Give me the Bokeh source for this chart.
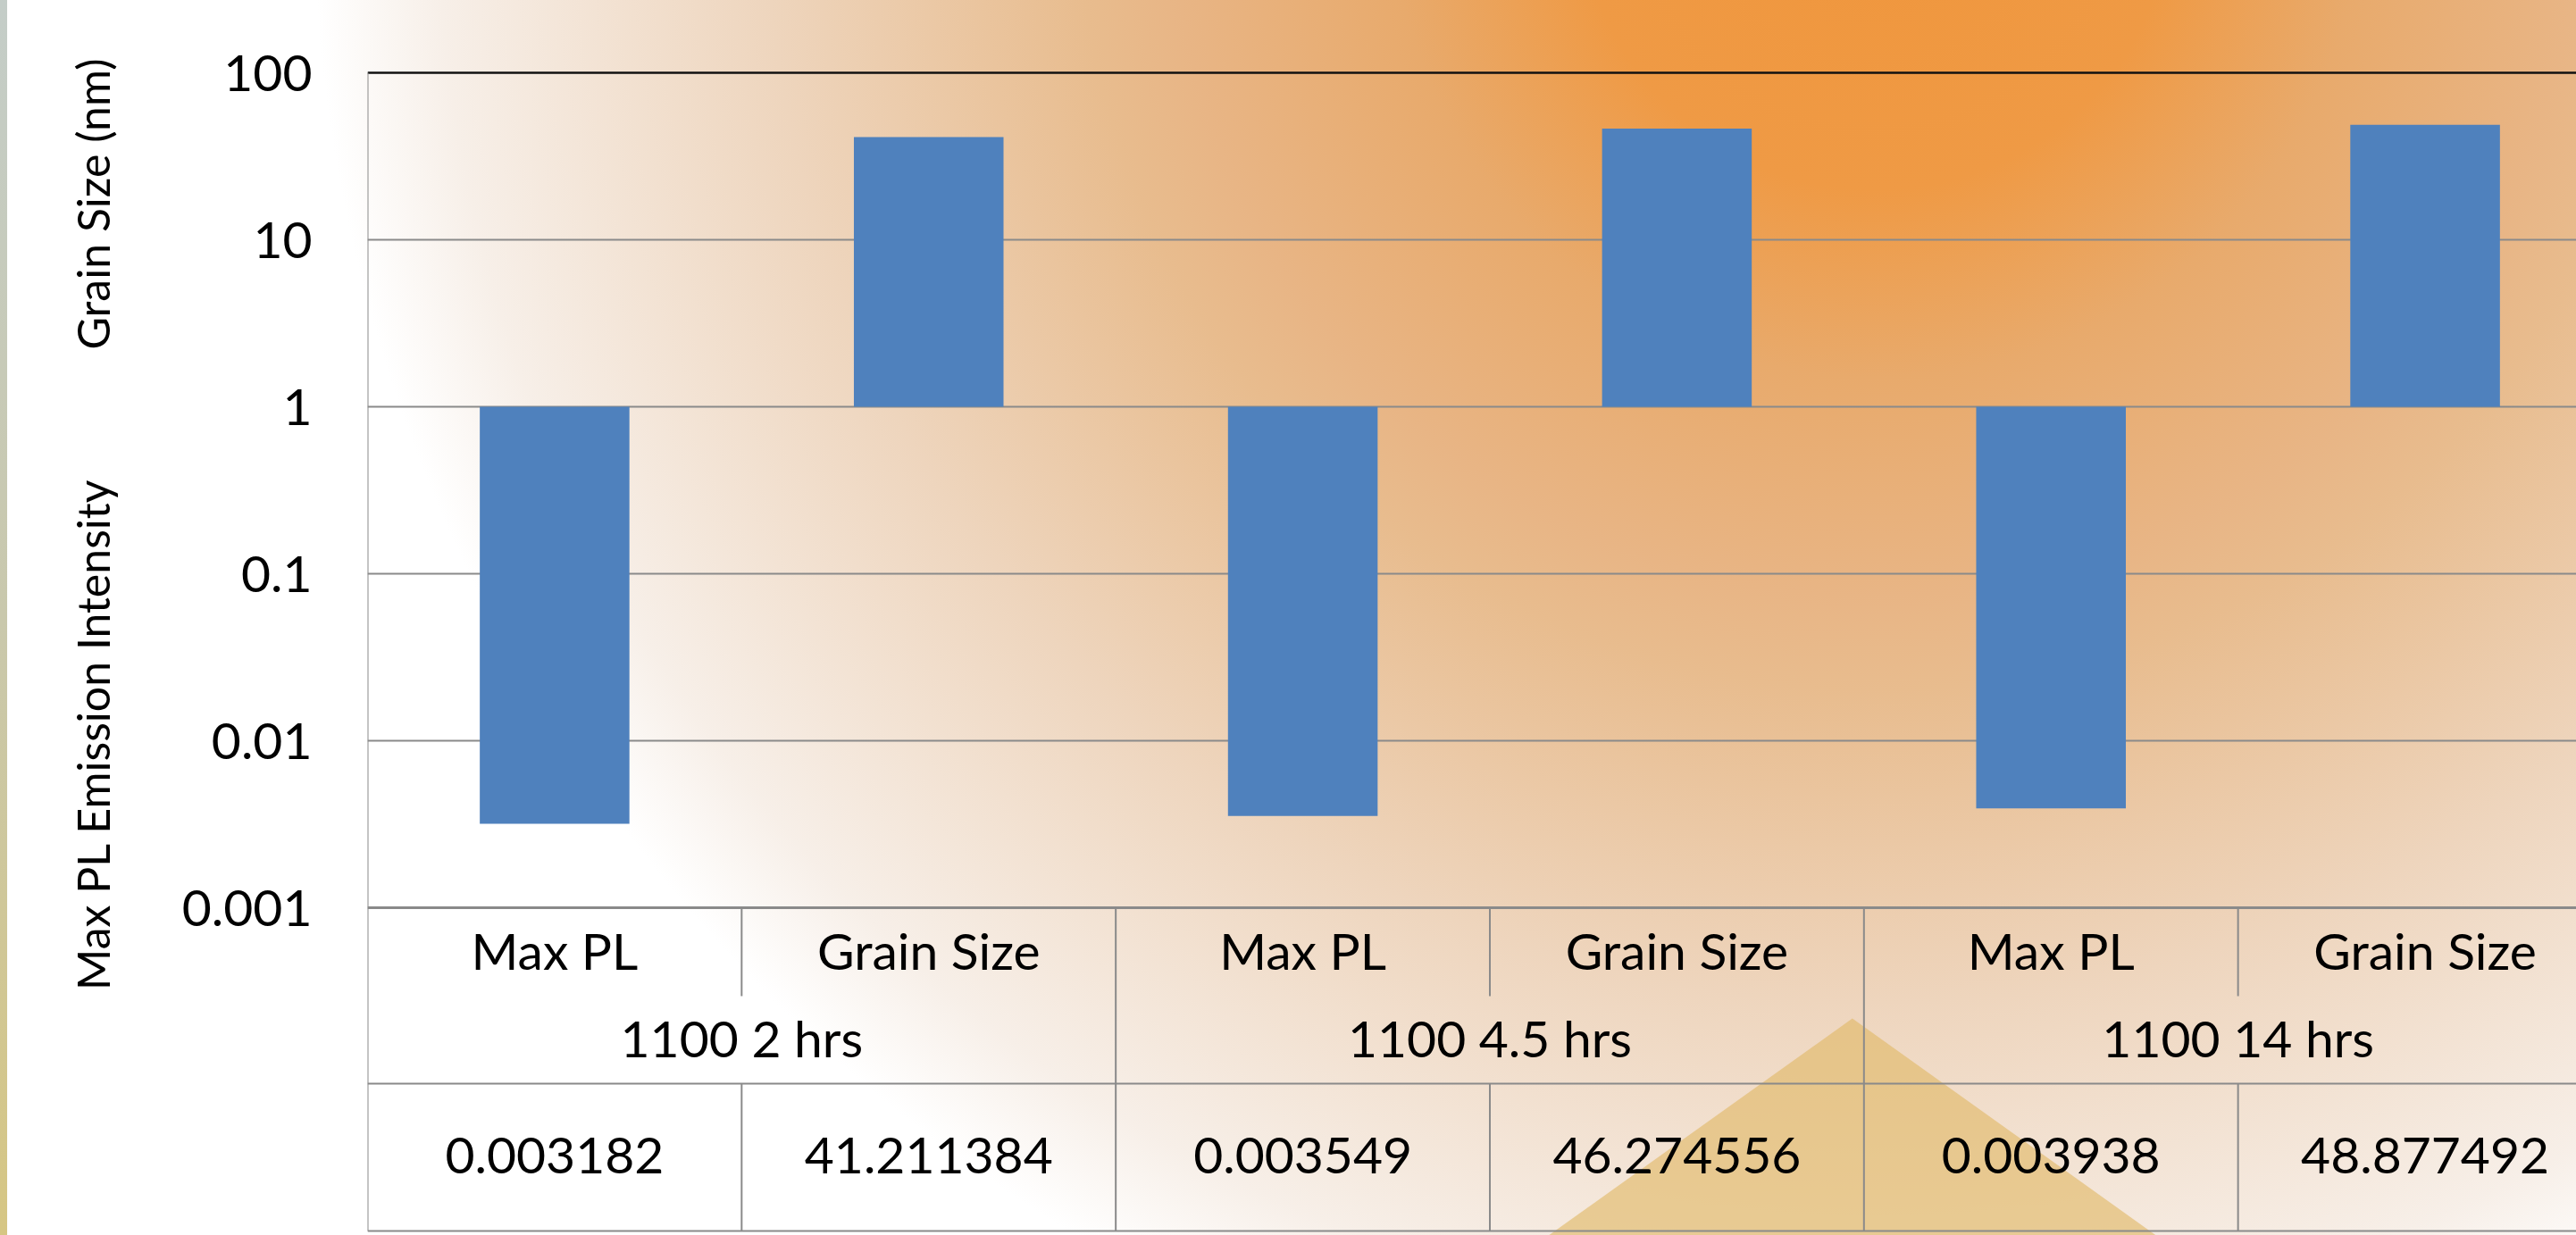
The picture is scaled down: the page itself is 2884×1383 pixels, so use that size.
import math

from bokeh.core.properties import value
from bokeh.embed import file_html
from bokeh.layouts import row
from bokeh.models import (ColumnDataSource, CustomJSTickFormatter, FixedTicker,
                          LinearScale, Range1d)
from bokeh.plotting import figure
from bokeh.resources import INLINE

# ---- data -------------------------------------------------------------
groups = ["1100 2 hrs", "1100 4.5 hrs", "1100 14 hrs"]
measures = ["Max PL", "Grain Size"]
max_pl = [0.003182, 0.003549, 0.003938]          # max PL emission intensity
grain_size = [41.211384, 46.274556, 48.877492]   # grain size (nm)
y_ticks = [0.001, 0.01, 0.1, 1, 10, 100]
grid_ticks = [0.01, 0.1, 1, 10]
axis_titles = ["Grain Size (nm)", "Max PL Emission Intensity"]

# ---- layout (pixels) ---------------------------------------------------
W, H = 2884, 1383
TITLE_W = 200         # strip holding the rotated axis titles
LEFT = 410            # left edge of the plot area on the page
COL = 419             # width of one category column
Y_TOP = 81            # pixel row of the top decade (100)
DECADE = 187          # pixels per decade on the log axis
TEXT_SHIFT = 22       # glyph baseline correction for the table text
ROW1_BASE = 1085      # baseline of the measure row
ROW1_SEP = 1115       # end of the short separators in the measure row
ROW2_BASE = 1183      # baseline of the group row
ROW2_LINE = 1213      # line under the group row
ROW3_BASE = 1315      # baseline of the value row
TABLE_BOTTOM = 1378
TITLE_X = 103
TITLE_Y = [228, 822]
FONT = "Lato"
BAR_BLUE = "#4F81BD"
LINE_GREY = "#8A8A8A"

log_top = math.log10(y_ticks[-1]) + Y_TOP / DECADE
log_bottom = math.log10(y_ticks[-1]) - (H - Y_TOP) / DECADE
n_cols = len(groups) * len(measures)

# ---- axis title strip ------------------------------------------------
t = figure(width=TITLE_W, height=H, output_backend="svg", toolbar_location=None,
           x_range=Range1d(0, TITLE_W), y_range=Range1d(H, 0),
           x_axis_location=None, y_axis_location=None,
           min_border_left=0, min_border_right=0, min_border_top=0, min_border_bottom=0)
t.background_fill_color = None
t.border_fill_color = None
t.outline_line_color = None
t.grid.visible = False
t.text(x=[TITLE_X] * len(axis_titles), y=TITLE_Y, text=axis_titles, angle=math.pi / 2,
       text_align="center", text_baseline="middle", text_font=value(FONT),
       text_font_size="50px", text_color="#000000")

# ---- main chart --------------------------------------------------------
p = figure(width=W - TITLE_W, height=H, output_backend="svg", toolbar_location=None,
           y_axis_type="log", x_axis_location=None,
           x_range=Range1d(0, (W - LEFT) / COL),
           y_range=Range1d(10 ** log_bottom, 10 ** log_top),
           min_border_left=LEFT - TITLE_W, min_border_right=0,
           min_border_top=0, min_border_bottom=0)
p.background_fill_color = None
p.border_fill_color = None
p.outline_line_color = None

# pixel-space ranges for the table rules and decoration
p.extra_x_ranges = {"px": Range1d(LEFT, W)}
p.extra_x_scales = {"px": LinearScale()}
p.extra_y_ranges = {"px": Range1d(H, 0)}
p.extra_y_scales = {"px": LinearScale()}

# gold triangle at the bottom of the slide
apex_x, apex_y, spread = 2073, 1140, 1.40
p.patch(x=[apex_x, apex_x - spread * (H + 20 - apex_y), apex_x + spread * (H + 20 - apex_y)],
        y=[apex_y, H + 20, H + 20], x_range_name="px", y_range_name="px",
        fill_color="#E0B865", fill_alpha=0.62, line_color=None)

# ---- y axis and grid ---------------------------------------------------
ax = p.yaxis[0]
ax.ticker = FixedTicker(ticks=y_ticks)
ax.formatter = CustomJSTickFormatter(code="return String(+tick.toPrecision(3));")
ax.axis_line_color = None
ax.major_tick_line_color = None
ax.minor_tick_line_color = None
ax.major_tick_out = 0
ax.major_tick_in = 0
ax.major_label_standoff = 62
ax.major_label_text_font = FONT
ax.major_label_text_font_size = "57px"
ax.major_label_text_color = "#000000"

p.xgrid.visible = False
p.ygrid.ticker = FixedTicker(ticks=grid_ticks)
p.ygrid.grid_line_color = LINE_GREY
p.ygrid.grid_line_width = 2

# ---- bars --------------------------------------------------------------
xs, tops, meas_lab, val_lab = [], [], [], []
for i, g in enumerate(groups):
    for j, m in enumerate(measures):
        v = max_pl[i] if j == 0 else grain_size[i]
        xs.append(i * len(measures) + j + 0.5)
        tops.append(v)
        meas_lab.append(m)
        val_lab.append(f"{v:.6f}")

bars = ColumnDataSource(dict(x=xs, top=tops, bottom=[1] * len(xs),
                             measure=meas_lab, label=val_lab))
p.vbar(x="x", top="top", bottom="bottom", width=0.4, source=bars,
       fill_color=BAR_BLUE, line_color=None)

# plot area frame: dark top rule, grey base rule
p.segment(x0=[0], x1=[n_cols], y0=[y_ticks[-1]], y1=[y_ticks[-1]],
          line_color="#111111", line_width=2.5)
p.segment(x0=[0], x1=[n_cols], y0=[y_ticks[0]], y1=[y_ticks[0]],
          line_color=LINE_GREY, line_width=3)

# ---- data table under the plot ---------------------------------------
y_base = Y_TOP + DECADE * (math.log10(y_ticks[-1]) - math.log10(y_ticks[0]))
hy = [ROW2_LINE, TABLE_BOTTOM]
p.segment(x0=[0] * len(hy), x1=[n_cols] * len(hy), y0=hy, y1=hy, y_range_name="px",
          line_color=LINE_GREY, line_width=2)

vx, vy0, vy1 = [0], [Y_TOP], [TABLE_BOTTOM]
for k in range(1, n_cols):
    if k % len(measures) == 0:
        vx.append(k); vy0.append(y_base); vy1.append(TABLE_BOTTOM)
    else:
        vx += [k, k]; vy0 += [y_base, ROW2_LINE]; vy1 += [ROW1_SEP, TABLE_BOTTOM]
p.segment(x0=vx, x1=vx, y0=vy0, y1=vy1, y_range_name="px",
          line_color=LINE_GREY, line_width=2)

text_style = dict(text_font=value(FONT), text_font_size="57px", text_color="#000000",
                  text_align="center", text_baseline="alphabetic", y_range_name="px")
p.text(x="x", y=ROW1_BASE - TEXT_SHIFT, text="measure", source=bars, **text_style)
p.text(x=[i * len(measures) + len(measures) / 2 for i in range(len(groups))],
       y=[ROW2_BASE - TEXT_SHIFT] * len(groups), text=groups, **text_style)
p.text(x="x", y=ROW3_BASE - TEXT_SHIFT, text="label", source=bars, **text_style)

# ---- page: warm radial glow and the thin strip on the left edge --------
strip = ("linear-gradient(to bottom, #C4CDC8 0%, #C9C8AC 50%, #D6C683 100%) "
         "0 0 / 8px 100% no-repeat")
glow = ("radial-gradient(circle 1750px at 2100px -120px, #F0963C 0%, #EF9A45 19%, "
        "#E8AA6C 31%, #E8B585 45%, #E8BC8E 51%, #EED5BD 71%, #F7EFE8 92%, "
        "#FFFFFF 100%)")
page = row(t, p, spacing=0)
page.styles = {"background": f"{strip}, {glow}"}

open("out.html", "w").write(file_html(page, INLINE))
